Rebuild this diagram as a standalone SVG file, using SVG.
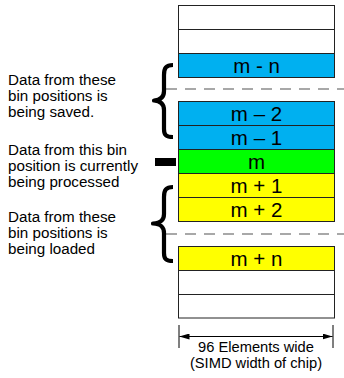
<svg xmlns="http://www.w3.org/2000/svg" width="344" height="378" viewBox="0 0 344 378">
  <style>
    .cell { stroke: #222; stroke-width: 1; }
    .empty { fill: #ffffff; }
    .save { fill: #00B0F0; }
    .now { fill: #00FF00; }
    .load { fill: #FFFF00; }
    .lbl { font-family: "Liberation Sans", Arial, sans-serif; font-size: 20.5px; fill: #000; text-anchor: middle; }
    .note { font-family: "Liberation Sans", Arial, sans-serif; font-size: 15.2px; fill: #000; }
    .dim { font-family: "Liberation Sans", Arial, sans-serif; font-size: 14.7px; fill: #000; text-anchor: middle; }
    .gap { stroke: #8c8c8c; stroke-width: 1.4; stroke-dasharray: 11 8; fill: none; }
    .brace { fill: none; stroke: #000; stroke-width: 4.2; stroke-linejoin: round; }
  </style>
  <defs>
    <marker id="arrow" viewBox="0 0 10 6" refX="10" refY="3" markerWidth="10" markerHeight="6" markerUnits="userSpaceOnUse" orient="auto-start-reverse">
      <path d="M0,0 L10,3 L0,6 Z" fill="#000"/>
    </marker>
  </defs>

  <!-- bin column -->
  <g id="bin-top-1"><rect class="cell empty" x="178.5" y="5.5" width="156" height="24"/></g>
  <g id="bin-top-2"><rect class="cell empty" x="178.5" y="29.5" width="156" height="24"/></g>
  <g id="bin-m-minus-n"><rect class="cell save" x="178.5" y="53.5" width="156" height="24"/><text class="lbl" x="256.5" y="72.5">m - n</text></g>
  <g id="bin-m-minus-2"><rect class="cell save" x="178.5" y="101.5" width="156" height="24"/><text class="lbl" x="256.5" y="120.5">m – 2</text></g>
  <g id="bin-m-minus-1"><rect class="cell save" x="178.5" y="125.5" width="156" height="24"/><text class="lbl" x="256.5" y="144.5">m – 1</text></g>
  <g id="bin-m"><rect class="cell now" x="178.5" y="149.5" width="156" height="24"/><text class="lbl" x="256.5" y="168.5">m</text></g>
  <g id="bin-m-plus-1"><rect class="cell load" x="178.5" y="173.5" width="156" height="24"/><text class="lbl" x="256.5" y="192.5">m + 1</text></g>
  <g id="bin-m-plus-2"><rect class="cell load" x="178.5" y="197.5" width="156" height="24"/><text class="lbl" x="256.5" y="216.5">m + 2</text></g>
  <g id="bin-m-plus-n"><rect class="cell load" x="178.5" y="246.5" width="156" height="24"/><text class="lbl" x="256.5" y="265.5">m + n</text></g>
  <g id="bin-bottom-1"><rect class="cell empty" x="178.5" y="270.5" width="156" height="24"/></g>
  <g id="bin-bottom-2"><rect class="cell empty" x="178.5" y="294.5" width="156" height="23.5"/></g>

  <!-- elided bins -->
  <g id="gaps">
    <line class="gap" x1="166" y1="89" x2="344" y2="89"/>
    <line class="gap" x1="166" y1="234" x2="344" y2="234"/>
  </g>

  <!-- notes -->
  <g id="note-saved">
    <text class="note" x="8" y="85.3">Data from these</text>
    <text class="note" x="8" y="101.3">bin positions is</text>
    <text class="note" x="8" y="117.3">being saved.</text>
  </g>
  <g id="note-processed">
    <text class="note" x="8" y="155.3">Data from this bin</text>
    <text class="note" x="8" y="171.3">position is currently</text>
    <text class="note" x="8" y="187.3">being processed</text>
  </g>
  <g id="note-loaded">
    <text class="note" x="8" y="222.3">Data from these</text>
    <text class="note" x="8" y="238.3">bin positions is</text>
    <text class="note" x="8" y="254.3">being loaded</text>
  </g>

  <!-- pointers -->
  <g id="connectors">
    <path class="brace" d="M173,65 C166,65 164,68 164,75 L164,91 C164,97 161,100 154,100.5 C161,101 164,104 164,110 L164,129 C164,135 166,137 173,137"/>
    <path class="brace" d="M173,187 C166,187 164,190 164,197 L164,214 C164,220 161,223 153,223.5 C161,224 164,227 164,233 L164,253 C164,259 166,261 173,261"/>
    <rect x="155" y="158" width="21" height="8" fill="#000"/>
  </g>

  <!-- width dimension -->
  <g id="dimension">
    <line x1="179" y1="325" x2="179" y2="348" stroke="#000" stroke-width="1"/>
    <line x1="333" y1="325" x2="333" y2="348" stroke="#000" stroke-width="1"/>
    <line x1="179.5" y1="336.5" x2="332.5" y2="336.5" stroke="#000" stroke-width="1" marker-start="url(#arrow)" marker-end="url(#arrow)"/>
    <text class="dim" x="256" y="351.5">96 Elements wide</text>
    <text class="dim" x="256" y="367.5">(SIMD width of chip)</text>
  </g>
</svg>
